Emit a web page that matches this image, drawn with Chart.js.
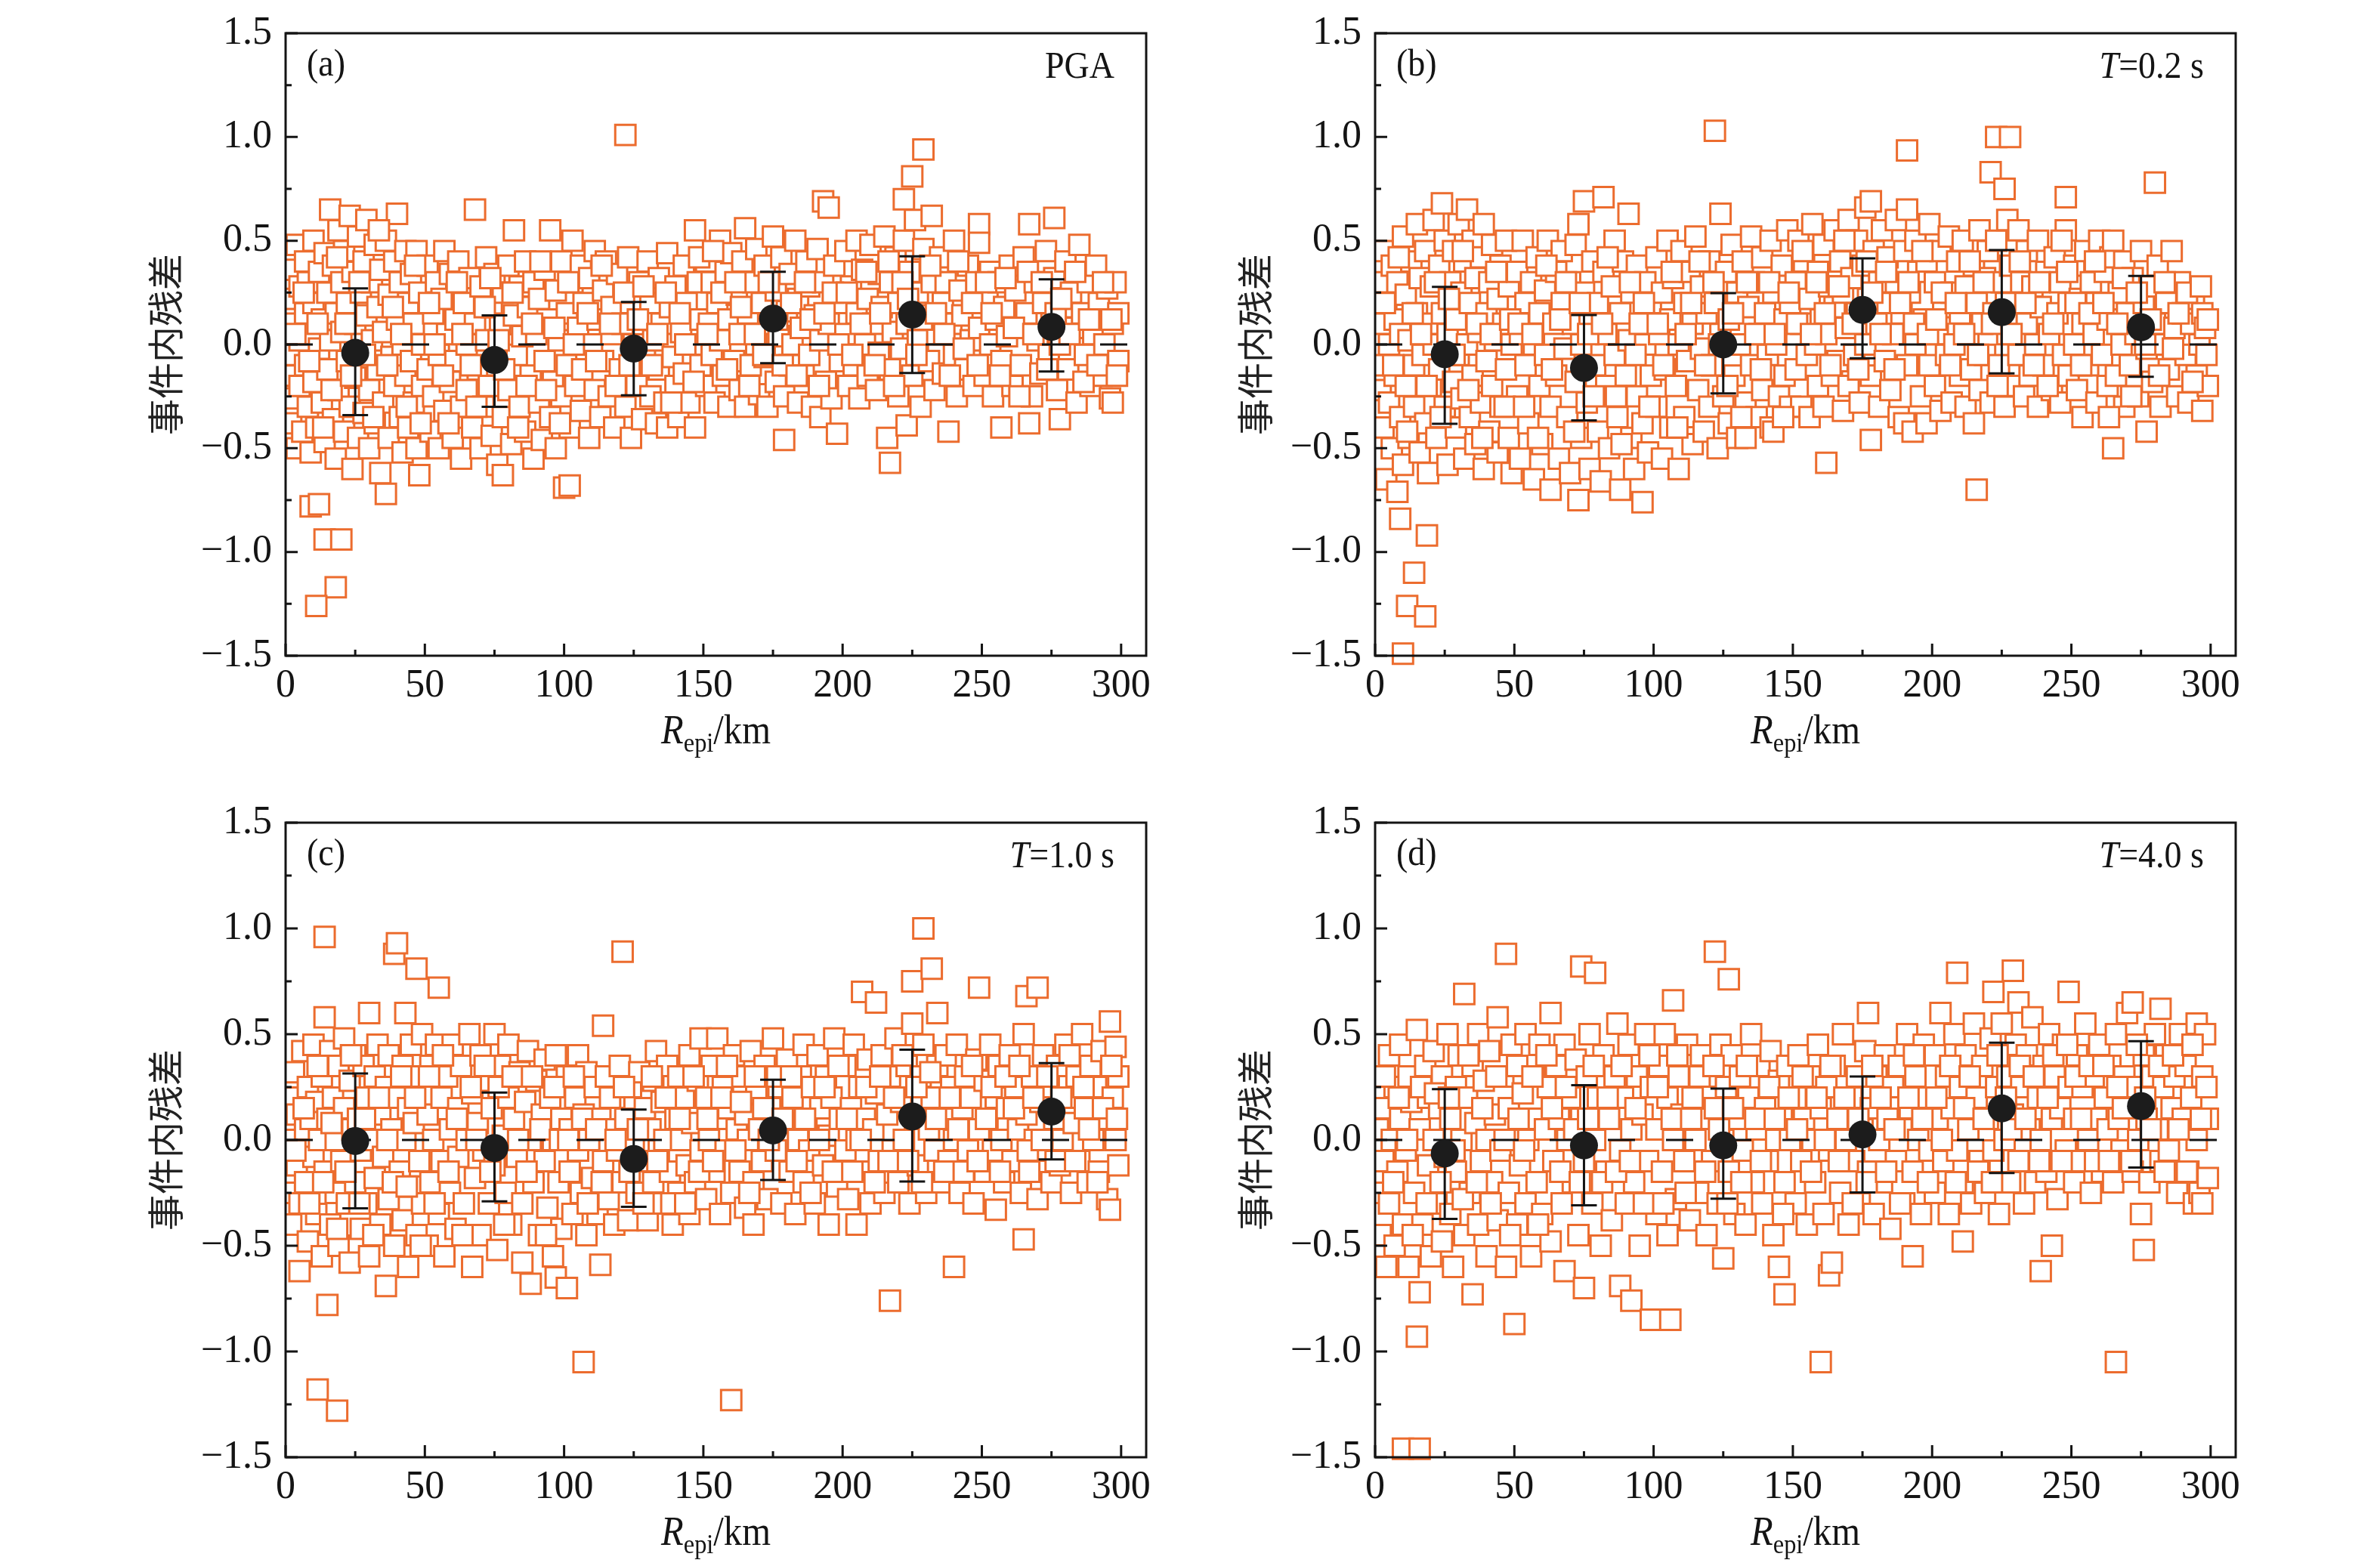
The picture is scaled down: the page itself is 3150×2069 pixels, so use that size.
<!DOCTYPE html>
<html><head><meta charset="utf-8">
<script src="https://cdn.jsdelivr.net/npm/chart.js@4.4.1/dist/chart.umd.min.js"></script>
<style>
html,body{margin:0;padding:0;background:#fff;}
#wrap{position:relative;width:3150px;height:2069px;overflow:hidden;background:#fff;}
canvas{position:absolute;}
</style></head><body>
<div id="wrap">
<canvas id="ca" width="1575" height="1035" style="left:0;top:0"></canvas>
<canvas id="cb" width="1575" height="1035" style="left:1575px;top:0"></canvas>
<canvas id="cc" width="1575" height="1034" style="left:0;top:1035px"></canvas>
<canvas id="cd" width="1575" height="1034" style="left:1575px;top:1035px"></canvas>
</div>
<script>
// ---------------- data ----------------
const binCenters = [25, 75, 125, 175, 225, 275];

const meanA = [-0.04, -0.075, -0.02, 0.125, 0.144, 0.085];
const upA   = [0.27, 0.14, 0.205, 0.35, 0.425, 0.314];
const loA   = [-0.34, -0.30, -0.245, -0.09, -0.137, -0.13];

const meanB = [-0.047, -0.113, 0.0, 0.167, 0.156, 0.083];
const upB   = [0.278, 0.142, 0.248, 0.415, 0.455, 0.33];
const loB   = [-0.382, -0.366, -0.236, -0.066, -0.139, -0.156];

const meanC = [-0.005, -0.038, -0.09, 0.045, 0.111, 0.134];
const upC   = [0.314, 0.224, 0.144, 0.285, 0.427, 0.363];
const loC   = [-0.323, -0.29, -0.316, -0.189, -0.196, -0.092];

const meanD = [-0.064, -0.026, -0.026, 0.026, 0.149, 0.16];
const upD   = [0.24, 0.259, 0.243, 0.30, 0.46, 0.467];
const loD   = [-0.373, -0.309, -0.278, -0.248, -0.156, -0.13];

const ptsA = [
[1,0.22],[1,-0.15],[2,0.36],[2,-0.05],[2,-0.38],[3,0.1],[3,-0.26],[4,0.48],[4,-0.5],[5,0.28],[5,0.02],[5,-0.2],[6,-0.42],[7,0.15],[7,0.4],[7,-0.1],[8,-0.3],[8,0.3],[9,0.05],[9,-0.52],[10,0.5],[10,0.2],[10,-0.18],[11,-0.4],[12,0.35],[12,-0.02],[13,-0.28],[13,0.12],[14,0.44],[14,-0.47],[15,0.25],[15,-0.12],[16,0.65],[16,0.02],[17,-0.36],[17,0.38],[18,0.15],[18,-0.55],[19,0.55],[19,-0.22],[20,0.3],[20,0.06],[21,-0.42],[21,0.45],[22,-0.08],[22,0.2],[23,0.62],[23,-0.3],[24,0.35],[24,-0.6],[25,0.1],[25,-0.16],[26,0.52],[26,-0.45],[27,0.25],[27,-0.04],[28,-0.33],[28,0.4],[29,0.6],[29,0.14],[30,-0.22],[30,-0.5],[31,0.3],[31,0.02],[32,0.48],[32,-0.38],[33,0.18],[33,-0.12],[34,-0.62],[34,0.36],[35,0.06],[35,-0.28],[36,-0.72],[36,0.5],[37,0.24],[37,-0.45],[38,-0.06],[39,0.4],[39,-0.2],[40,0.63],[40,0.12],[41,-0.35],[41,0.3],[42,-0.52],[42,0.0],[43,0.45],[43,-0.15],[44,0.2],[44,-0.4],[45,0.34],[45,-0.08],[46,-0.28],[46,0.1],[47,0.45],[47,-0.5],[48,-0.63],[48,0.25],[49,0.0],[49,-0.2],
[9,-0.78],[12,-0.77],[14,-0.94],[20,-0.94],[18,-1.17],[11,-1.26],
[51,0.38],[51,-0.12],[52,-0.42],[53,0.15],[53,-0.25],[54,0.3],[55,-0.05],[55,-0.5],[56,0.22],[57,-0.32],[57,0.45],[58,0.05],[59,-0.18],[59,0.34],[60,-0.45],[61,0.12],[61,-0.08],[62,0.4],[63,-0.3],[63,-0.55],[64,0.2],[65,0.0],[65,-0.22],[66,0.32],[67,-0.4],[68,0.65],[68,0.1],[69,-0.12],[70,0.28],[70,-0.5],[71,-0.3],[72,0.42],[72,0.02],[73,-0.2],[74,0.18],[74,-0.44],[75,0.34],[76,-0.1],[76,-0.58],[77,0.1],[78,-0.63],[78,0.25],[78,-0.35],[79,0.0],[80,0.38],[80,-0.22],[81,-0.48],[82,0.55],[82,0.14],[83,-0.05],[84,-0.3],[84,0.28],[85,0.04],[86,-0.42],[86,0.4],[87,0.18],[88,-0.15],[89,-0.55],[89,0.3],[90,0.05],[91,-0.28],[91,0.22],[92,-0.46],[93,0.36],[93,-0.08],[94,0.12],[95,0.55],[95,-0.35],[96,-0.18],[97,0.26],[97,-0.5],[98,0.02],[99,0.4],[99,-0.25],
[100,-0.69],[102,-0.68],
[101,0.15],[101,-0.1],[102,-0.4],[103,0.5],[103,0.3],[104,-0.2],[105,0.08],[106,-0.32],[106,0.38],[107,0.2],[108,-0.05],[109,-0.45],[109,0.32],[110,0.0],[111,-0.22],[111,0.45],[112,0.12],[113,-0.35],[114,0.26],[114,-0.08],[115,0.4],[116,-0.25],[117,0.05],[117,0.18],[118,-0.4],[119,0.34],[120,-0.12],[121,0.1],[122,1.01],[122,-0.3],[123,0.42],[124,-0.45],[124,0.2],[125,0.0],[126,-0.2],[127,0.3],[128,-0.36],[128,0.12],[129,-0.05],[130,0.4],[131,-0.25],[131,0.2],[132,0.02],[133,-0.38],[134,0.32],[134,-0.12],[135,0.1],[136,-0.28],[137,-0.4],[137,0.44],[138,0.18],[139,-0.06],[140,0.28],[140,-0.2],[141,-0.35],[142,0.06],[143,0.38],[143,-0.14],[144,0.2],[145,-0.28],[146,0.0],[147,0.55],[147,-0.4],[148,0.3],[149,-0.1],[149,0.12],
[151,0.4],[151,-0.2],[152,0.1],[153,-0.05],[153,0.3],[154,-0.28],[155,0.2],[156,0.5],[156,0.02],[157,-0.15],[158,0.35],[159,-0.3],[159,0.12],[160,0.44],[161,-0.08],[162,0.24],[163,-0.22],[163,0.05],[164,0.4],[165,0.56],[165,-0.3],[166,0.15],[167,-0.1],[168,0.3],[169,0.46],[169,0.0],[170,-0.24],[171,0.2],[172,0.38],[172,-0.06],[173,-0.3],[174,0.1],[175,0.52],[176,-0.18],[176,0.26],[177,0.04],[178,0.42],[179,-0.46],[179,-0.25],[180,0.16],[181,0.34],[181,-0.1],[182,0.0],[183,0.5],[184,-0.28],[184,0.22],[185,0.08],[186,-0.15],[187,0.4],[188,0.28],[188,-0.05],[189,-0.3],[190,0.14],[191,0.46],[192,-0.35],[192,0.02],[193,0.69],[193,0.3],[194,-0.18],[195,0.66],[195,0.1],[196,-0.26],[197,0.38],[198,-0.43],[198,0.2],[199,-0.08],
[201,0.45],[201,0.05],[202,-0.2],[203,0.28],[204,-0.1],[205,0.5],[205,0.15],[206,-0.26],[207,0.36],[208,0.0],[209,-0.15],[209,0.22],[210,0.48],[211,0.1],[212,-0.22],[213,0.34],[213,-0.04],[214,0.18],[215,0.52],[216,-0.45],[217,-0.57],[217,-0.12],[217,0.3],[218,0.06],[219,0.42],[220,-0.25],[220,0.2],[221,-0.02],[222,0.7],[222,0.5],[223,-0.39],[223,0.1],[224,0.35],[225,0.81],[225,-0.15],[226,0.6],[227,0.25],[227,0.02],[228,-0.3],[229,0.94],[229,0.46],[230,0.14],[231,-0.08],[232,0.62],[232,0.3],[233,-0.22],[234,0.05],[235,0.42],[236,0.2],[236,-0.14],[237,0.3],[238,-0.42],[239,0.1],[240,0.5],[240,-0.05],[241,-0.25],[242,0.26],[243,0.14],[244,-0.12],[245,0.38],[246,0.02],[247,-0.2],[248,0.3],[249,0.58],[249,0.49],[249,0.08],
[251,-0.15],[252,0.22],[253,0.35],[253,0.0],[254,-0.25],[255,0.12],[256,0.3],[257,-0.4],[257,-0.08],[258,0.18],[259,0.04],[260,0.38],[261,-0.2],[262,0.26],[263,0.08],[264,-0.1],[265,0.42],[266,0.15],[267,0.58],[267,-0.38],[268,-0.25],[269,0.3],[270,0.02],[271,-0.14],[272,0.2],[273,0.45],[274,-0.05],[275,0.1],[276,0.61],[276,0.32],[277,-0.22],[278,-0.36],[278,0.0],[279,0.18],[280,0.4],[281,-0.12],[282,0.25],[283,0.08],[284,-0.28],[285,0.48],[286,0.15],[287,-0.05],[288,0.3],[289,-0.2],[290,0.05],[291,0.38],[292,0.2],[293,-0.15],[294,0.0],[295,0.27],[296,-0.26],[297,0.1],[297,-0.28],[298,0.3],[299,0.15],[299,-0.08],
[3.5,0.05],[6.5,0.25],[8.5,-0.08],[11.5,0.1],[13.5,-0.4],[16.5,-0.22],[18.5,0.42],[21.5,0.1],[23.5,-0.15],[26.5,0.3],[28.5,-0.05],[31.5,-0.35],[33.5,0.55],[36.5,-0.1],[38.5,0.18],[41.5,0.05],[43.5,-0.3],[46.5,0.38],[48.5,-0.38],
[51.5,0.2],[53.5,0.0],[56.5,-0.15],[58.5,-0.38],[61.5,0.3],[63.5,0.05],[66.5,-0.1],[68.5,-0.3],[71.5,0.18],[73.5,0.32],[76.5,0.02],[78.5,-0.12],[81.5,0.25],[83.5,-0.4],[86.5,-0.2],[88.5,0.1],[91.5,0.4],[93.5,-0.22],[96.5,0.08],[98.5,-0.38],
[101.5,0.3],[103.5,0.0],[106.5,-0.12],[108.5,0.15],[111.5,-0.08],[113.5,0.38],[116.5,0.1],[118.5,-0.2],[121.5,0.25],[123.5,-0.1],[126.5,0.12],[128.5,0.28],[131.5,-0.1],[133.5,0.05],[136.5,0.25],[138.5,-0.28],[141.5,0.15],[143.5,0.0],[146.5,-0.18],[148.5,0.42],
[151.5,0.05],[153.5,0.45],[156.5,0.25],[158.5,-0.12],[161.5,0.3],[163.5,0.18],[166.5,-0.2],[168.5,0.05],[171.5,-0.05],[173.5,0.3],[176.5,0.12],[178.5,-0.1],[181.5,0.2],[183.5,-0.15],[186.5,0.3],[188.5,0.12],[191.5,-0.2],[193.5,0.15],[196.5,0.25],[198.5,0.0],
[201.5,0.25],[203.5,-0.05],[206.5,0.1],[208.5,0.35],[211.5,-0.1],[213.5,0.15],[216.5,0.4],[218.5,-0.2],[221.5,0.3],[223.5,0.22],[226.5,-0.05],[228.5,0.12],[231.5,0.38],[233.5,0.15],[236.5,0.05],[238.5,-0.15],[241.5,0.4],[243.5,-0.02],[246.5,0.2],[248.5,-0.1],
[251.5,0.3],[253.5,0.15],[256.5,-0.15],[258.5,0.32],[261.5,0.08],[263.5,-0.25],[266.5,0.35],[268.5,0.05],[271.5,0.3],[273.5,-0.12],[276.5,0.15],[278.5,0.22],[281.5,0.05],[283.5,0.35],[286.5,-0.18],[288.5,0.12],[291.5,-0.1],[293.5,0.3],[296.5,0.12],[298.5,-0.15]
];

const ptsB = [
[1,0.3],[1,-0.1],[2,-0.22],[2,0.1],[3,0.45],[3,-0.4],[4,-0.65],[4,0.2],[5,0.0],[5,-0.28],[6,0.38],[6,-0.5],[7,0.12],[7,-0.15],[8,-0.71],[8,0.3],[9,-0.84],[9,-0.35],[9,0.05],[10,0.52],[10,-0.58],[11,-0.2],[11,0.24],[12,0.02],[12,-0.45],[13,0.4],[14,-0.1],[14,-0.3],[15,0.15],[15,0.58],[16,-0.52],[16,0.32],[17,-0.05],[18,0.45],[18,-0.38],[19,0.1],[19,-0.62],[20,-0.2],[20,0.28],[21,0.6],[21,0.0],[22,-0.45],[23,0.38],[23,-0.12],[24,0.68],[24,0.15],[25,-0.3],[25,0.5],[26,-0.58],[26,0.05],[27,0.3],[28,-0.18],[28,0.45],[29,-0.4],[29,0.12],[30,0.58],[30,-0.05],[31,-0.26],[31,0.25],[32,0.4],[32,-0.55],[33,0.65],[33,0.0],[34,-0.35],[34,0.2],[35,0.5],[35,-0.15],[36,-0.48],[36,0.32],[37,0.06],[38,-0.28],[38,0.42],[39,0.58],[39,-0.6],[40,0.15],[40,-0.08],[41,0.3],[41,-0.42],[42,0.48],[42,-0.2],[43,0.02],[44,-0.52],[44,0.22],[45,0.38],[45,-0.3],[46,0.1],[47,-0.12],[47,0.5],[48,-0.45],[48,0.28],[49,0.0],[49,-0.62],
[18.6,-0.92],[14,-1.1],[11.5,-1.26],[18,-1.31],[10,-1.49],
[51,0.35],[51,-0.25],[52,0.05],[52,-0.55],[53,0.5],[54,-0.1],[54,0.2],[55,-0.38],[56,0.3],[57,-0.65],[57,0.0],[58,0.42],[59,-0.2],[59,0.15],[60,-0.48],[61,0.26],[61,-0.05],[62,0.5],[63,-0.3],[63,-0.7],[64,0.1],[65,0.35],[65,-0.15],[66,-0.55],[67,0.2],[67,0.45],[68,-0.02],[69,-0.35],[70,0.3],[70,-0.62],[71,0.1],[72,-0.18],[72,0.48],[73,-0.75],[73,0.58],[74,0.0],[74,-0.45],[75,0.69],[75,0.25],[76,-0.28],[77,0.12],[77,-0.6],[78,0.4],[79,-0.1],[80,0.2],[80,-0.42],[81,-0.66],[82,0.71],[82,0.35],[83,-0.2],[83,0.05],[84,-0.5],[85,0.28],[86,-0.05],[86,0.5],[87,-0.35],[88,0.15],[88,-0.7],[89,0.4],[90,-0.15],[91,0.63],[91,0.02],[92,-0.45],[92,0.25],[93,-0.6],[94,0.38],[94,-0.25],[95,0.1],[96,-0.76],[96,-0.38],[97,0.3],[97,0.0],[98,-0.52],[99,0.2],[99,-0.15],
[101,0.42],[101,-0.3],[102,0.05],[103,-0.55],[103,0.25],[104,-0.12],[105,0.5],[106,-0.4],[106,0.12],[107,0.32],[108,-0.2],[109,0.0],[109,-0.6],[110,0.45],[111,0.2],[111,-0.35],[112,-0.08],[113,0.35],[114,-0.48],[114,0.1],[115,0.52],[116,-0.22],[117,0.28],[117,-0.02],[118,-0.42],[119,0.15],[120,0.4],[120,-0.3],[121,-0.1],[122,1.03],[122,0.2],[123,-0.5],[124,0.63],[124,0.05],[125,-0.25],[126,0.35],[127,-0.38],[127,0.12],[128,0.48],[129,-0.15],[130,0.25],[130,-0.45],[131,0.0],[132,0.4],[133,-0.28],[133,-0.45],[134,0.18],[135,0.52],[135,-0.1],[136,0.3],[137,-0.35],[138,0.05],[139,0.42],[139,-0.22],[140,0.15],[141,-0.05],[142,0.5],[142,-0.4],[143,0.25],[143,-0.42],[144,0.0],[145,-0.25],[146,0.38],[147,0.12],[147,-0.15],[148,0.55],[149,-0.3],[149,0.2],
[151,0.3],[151,-0.12],[152,0.5],[153,-0.3],[153,0.1],[154,0.4],[155,-0.05],[156,0.22],[156,-0.35],[157,0.58],[158,0.0],[159,-0.2],[159,0.35],[160,0.12],[161,0.48],[161,-0.3],[162,-0.57],[162,0.05],[163,0.28],[164,-0.15],[165,0.55],[165,0.18],[166,-0.08],[167,0.4],[168,-0.32],[168,0.25],[169,0.08],[170,0.6],[170,-0.2],[171,0.32],[172,-0.05],[173,0.5],[173,0.15],[174,-0.28],[175,0.38],[176,0.0],[176,0.66],[177,0.22],[178,-0.46],[178,0.69],[178,-0.15],[179,0.45],[180,0.1],[181,-0.3],[181,0.3],[182,0.55],[183,-0.08],[184,0.2],[184,0.42],[185,-0.22],[186,0.05],[187,0.6],[187,0.3],[188,-0.35],[189,0.15],[190,-0.38],[190,0.45],[191,0.935],[191,0.65],[191,-0.1],[192,0.25],[193,-0.42],[194,0.5],[194,0.0],[195,0.35],[196,-0.25],[197,0.12],[198,-0.38],[198,0.4],[199,0.58],[199,-0.1],
[201,0.3],[201,-0.2],[202,0.05],[203,0.45],[203,-0.32],[204,0.18],[205,-0.05],[206,0.52],[207,0.25],[207,-0.28],[208,0.0],[209,0.4],[210,-0.15],[210,0.15],[211,0.5],[212,-0.3],[212,0.28],[213,0.05],[214,-0.12],[215,0.38],[215,-0.38],[216,-0.7],[216,0.2],[217,0.55],[217,-0.22],[218,0.1],[219,-0.05],[219,0.32],[220,0.45],[221,0.83],[221,-0.28],[222,0.15],[223,1.0],[223,0.5],[224,-0.1],[225,0.3],[226,0.75],[226,-0.3],[227,0.6],[227,0.05],[228,1.0],[228,0.38],[229,-0.2],[230,0.2],[231,0.55],[231,-0.05],[232,0.3],[233,-0.25],[234,0.45],[234,0.1],[235,-0.15],[236,0.28],[237,0.0],[238,0.5],[238,-0.3],[239,0.18],[240,-0.1],[241,0.35],[242,0.05],[243,-0.22],[244,0.42],[245,0.15],[246,-0.28],[246,0.3],[247,-0.05],[248,0.71],[248,0.55],[249,0.2],[249,-0.15],
[251,0.38],[251,0.0],[252,-0.22],[253,0.22],[254,-0.35],[254,0.1],[255,0.45],[256,-0.1],[257,0.3],[258,0.05],[259,-0.28],[259,0.2],[260,0.5],[261,-0.05],[262,0.35],[263,-0.2],[263,0.12],[264,0.42],[265,0.5],[265,-0.5],[266,-0.15],[267,0.25],[268,0.0],[269,-0.3],[269,0.4],[270,0.15],[271,-0.1],[272,0.32],[273,0.05],[274,-0.25],[275,0.45],[276,0.2],[277,-0.42],[277,-0.02],[278,0.28],[279,-0.18],[280,0.78],[280,0.1],[281,0.38],[282,-0.3],[283,0.0],[284,0.2],[285,-0.12],[286,0.45],[287,0.08],[288,-0.25],[289,0.3],[290,0.15],[291,-0.05],[292,-0.28],[293,0.1],[294,0.22],[295,-0.15],[296,0.0],[297,-0.32],[297,0.15],[298,0.08],[299,-0.2],[299,0.12],
[3.5,0.2],[6.5,-0.1],[8.5,0.42],[11.5,-0.42],[13.5,0.15],[16.5,0.05],[18.5,-0.2],[21.5,0.3],[23.5,-0.35],[26.5,0.22],[28.5,-0.05],[31.5,0.45],[33.5,-0.22],[36.5,0.1],[38.5,-0.45],[41.5,0.05],[43.5,0.35],[46.5,-0.3],[48.5,0.12],
[51.5,0.1],[53.5,-0.3],[56.5,0.05],[58.5,-0.45],[61.5,0.38],[63.5,-0.12],[66.5,0.12],[68.5,0.3],[71.5,-0.42],[73.5,0.2],[76.5,0.05],[78.5,-0.25],[81.5,0.1],[83.5,0.42],[86.5,-0.25],[88.5,-0.48],[91.5,0.3],[93.5,-0.05],[96.5,0.2],[98.5,-0.3],
[101.5,0.1],[103.5,-0.1],[106.5,0.35],[108.5,-0.4],[111.5,0.05],[113.5,0.2],[116.5,0.4],[118.5,-0.1],[121.5,0.3],[123.5,0.0],[126.5,-0.2],[128.5,0.15],[131.5,-0.35],[133.5,0.3],[136.5,0.05],[138.5,-0.12],[141.5,0.3],[143.5,0.05],[146.5,-0.35],[148.5,0.25],
[151.5,0.1],[153.5,0.45],[156.5,0.05],[158.5,0.3],[161.5,0.15],[163.5,-0.1],[166.5,0.28],[168.5,0.5],[171.5,0.1],[173.5,-0.12],[176.5,0.4],[178.5,0.25],[181.5,0.05],[183.5,0.35],[186.5,-0.12],[188.5,0.2],[191.5,0.3],[193.5,0.1],[196.5,0.45],[198.5,0.05],
[201.5,0.12],[203.5,0.25],[206.5,-0.1],[208.5,0.2],[211.5,0.05],[213.5,0.4],[216.5,-0.05],[218.5,0.3],[221.5,0.1],[223.5,-0.2],[226.5,0.2],[228.5,0.05],[231.5,0.4],[233.5,0.2],[236.5,-0.1],[238.5,0.3],[241.5,-0.2],[243.5,0.1],[246.5,0.5],[248.5,0.35],
[251.5,0.2],[253.5,-0.1],[256.5,0.15],[258.5,0.4],[261.5,0.2],[263.5,-0.35],[266.5,0.1],[268.5,0.32],[271.5,-0.25],[273.5,0.25],[276.5,0.0],[278.5,0.12],[281.5,-0.15],[283.5,0.3],[286.5,-0.02],[288.5,0.15],[291.5,0.25],[293.5,-0.18],[296.5,0.28],[298.5,-0.05]
];

const ptsC = [
[1,0.2],[1,-0.25],[2,0.0],[2,-0.4],[3,0.32],[4,-0.12],[4,0.12],[5,-0.62],[5,-0.3],[6,0.42],[7,0.05],[7,-0.2],[8,-0.48],[8,0.25],[9,0.1],[10,-0.08],[10,0.45],[11,-0.35],[11,0.18],[12,0.0],[13,-0.55],[13,0.3],[14,0.96],[14,0.58],[14,-0.15],[15,-0.78],[15,0.1],[16,-0.4],[16,0.42],[17,0.2],[18,-0.25],[18,0.0],[19,0.35],[19,-0.5],[20,-0.1],[21,0.48],[21,0.15],[22,-0.3],[23,-0.58],[23,0.28],[24,0.05],[25,-0.2],[25,0.4],[26,0.1],[27,-0.42],[27,-0.05],[28,0.35],[29,0.2],[29,-0.3],[30,0.6],[30,-0.55],[31,0.0],[32,0.3],[32,-0.18],[33,0.45],[34,-0.4],[34,0.12],[35,-0.08],[36,-0.69],[36,0.25],[37,0.4],[37,-0.28],[38,0.05],[39,0.88],[39,-0.5],[40,0.93],[40,0.2],[41,-0.15],[42,0.35],[42,-0.38],[43,0.6],[43,0.0],[44,-0.6],[44,0.15],[45,0.45],[45,-0.22],[46,0.08],[47,0.81],[47,-0.45],[48,0.3],[48,-0.1],[49,-0.3],[49,0.5],
[11.5,-1.18],[18.5,-1.28],
[51,0.12],[51,-0.5],[52,0.35],[52,-0.2],[53,0.0],[54,0.45],[55,0.72],[55,-0.35],[56,0.2],[56,-0.1],[57,-0.55],[58,0.3],[59,0.05],[59,-0.25],[60,0.45],[61,-0.42],[62,0.15],[62,-0.08],[63,0.35],[64,-0.3],[65,0.0],[66,0.5],[67,-0.6],[67,0.22],[68,-0.18],[69,0.08],[70,0.4],[70,-0.45],[71,-0.05],[72,0.28],[73,-0.3],[74,0.15],[75,0.5],[75,-0.12],[76,-0.52],[77,0.35],[78,0.02],[79,-0.25],[80,0.2],[80,0.45],[81,-0.4],[82,0.1],[83,-0.08],[84,0.32],[85,-0.58],[85,-0.3],[86,0.18],[87,0.42],[88,-0.68],[88,0.0],[89,-0.2],[90,0.28],[91,-0.45],[92,0.12],[93,0.38],[93,-0.1],[94,-0.32],[95,0.2],[96,-0.55],[96,0.0],[97,0.4],[97,-0.65],[98,-0.2],[99,0.1],[99,-0.42],
[101,-0.7],[101,0.3],[102,-0.15],[102,0.05],[103,-0.35],[104,0.2],[105,0.4],[105,-0.05],[106,-0.25],[107,-1.05],[107,0.12],[108,-0.45],[108,0.32],[109,0.0],[110,-0.18],[111,0.25],[112,-0.35],[113,-0.59],[113,0.1],[114,0.54],[114,-0.1],[115,0.3],[116,-0.28],[117,0.05],[118,0.2],[118,-0.4],[119,-0.05],[120,0.35],[121,0.89],[121,-0.2],[122,0.1],[123,-0.38],[124,0.25],[125,0.0],[126,-0.25],[127,0.32],[128,-0.1],[129,0.15],[130,-0.38],[131,0.05],[132,0.28],[132,-0.2],[133,0.42],[134,-0.05],[135,-0.3],[135,0.18],[136,0.0],[137,0.35],[138,-0.15],[139,-0.4],[140,0.1],[141,0.3],[141,-0.25],[142,0.0],[143,0.2],[144,-0.12],[145,0.4],[145,-0.35],[146,0.08],[147,-0.2],[148,0.28],[149,0.48],[149,-0.05],
[151,0.2],[151,-0.28],[152,0.0],[153,0.35],[154,-0.15],[155,0.48],[155,0.1],[156,-0.35],[157,0.25],[158,-0.05],[159,0.15],[160,-1.23],[160,-0.25],[161,0.4],[162,0.05],[163,-0.15],[164,0.3],[165,-0.32],[165,0.12],[166,0.0],[167,0.42],[168,-0.4],[168,-0.2],[169,0.22],[170,0.05],[171,-0.1],[172,0.35],[173,-0.28],[174,0.15],[175,0.48],[176,-0.05],[177,0.25],[178,-0.3],[179,0.08],[180,0.38],[181,-0.15],[182,0.2],[183,-0.35],[184,0.0],[185,0.3],[186,0.45],[186,-0.2],[187,0.1],[188,-0.05],[189,0.25],[190,-0.3],[191,0.4],[192,0.15],[193,-0.12],[194,0.3],[195,-0.4],[195,0.02],[196,0.2],[197,0.48],[198,-0.22],[199,0.1],
[201,0.35],[201,-0.05],[202,-0.28],[203,0.15],[204,0.45],[205,-0.4],[205,0.0],[206,0.25],[207,0.7],[207,-0.15],[208,0.1],[209,0.38],[210,-0.3],[211,0.05],[212,0.65],[212,0.22],[213,-0.1],[214,0.4],[215,-0.25],[216,0.12],[217,-0.76],[217,0.3],[218,-0.05],[219,0.48],[220,-0.2],[221,0.18],[222,0.0],[223,0.35],[224,-0.3],[225,0.75],[225,0.55],[226,0.1],[227,-0.12],[228,0.3],[229,1.0],[229,0.45],[230,-0.25],[231,0.05],[232,0.81],[232,0.2],[233,-0.05],[234,0.6],[234,0.35],[235,-0.2],[236,0.1],[237,0.4],[238,-0.1],[239,0.25],[240,-0.6],[240,0.0],[241,0.45],[242,-0.25],[243,0.15],[244,0.3],[245,-0.05],[246,0.2],[247,-0.3],[248,0.38],[249,0.72],[249,0.05],
[251,-0.15],[251,0.28],[252,0.1],[253,0.45],[254,-0.05],[255,-0.33],[255,0.2],[256,0.35],[257,0.0],[258,-0.2],[259,0.15],[260,0.4],[261,-0.1],[262,0.25],[263,0.05],[264,-0.25],[265,-0.47],[265,0.5],[266,0.68],[266,0.12],[267,-0.15],[268,0.3],[269,0.0],[270,0.72],[270,-0.28],[271,0.18],[272,0.4],[273,-0.05],[274,0.25],[275,-0.2],[276,0.1],[277,0.35],[278,-0.12],[279,0.0],[280,0.45],[281,0.2],[282,-0.25],[283,0.08],[284,0.3],[285,-0.1],[286,0.5],[287,0.15],[288,-0.2],[289,0.35],[290,0.0],[291,0.25],[292,-0.15],[293,0.42],[294,0.1],[295,-0.28],[296,0.56],[296,-0.33],[297,0.2],[298,0.44],[298,0.0],[299,-0.12],[299,0.3],
[3.5,-0.05],[6.5,0.15],[8.5,-0.3],[11.5,0.35],[13.5,-0.2],[16.5,0.08],[18.5,-0.42],[21.5,-0.15],[23.5,0.4],[26.5,-0.3],[28.5,0.1],[31.5,-0.45],[33.5,0.2],[36.5,0.0],[38.5,-0.2],[41.5,0.3],[43.5,-0.22],[46.5,0.2],[48.5,-0.5],
[51.5,0.3],[53.5,-0.3],[56.5,0.4],[58.5,-0.15],[61.5,0.1],[63.5,-0.45],[66.5,0.25],[68.5,0.0],[71.5,0.35],[73.5,-0.15],[76.5,0.25],[78.5,-0.4],[81.5,0.3],[83.5,0.0],[86.5,-0.15],[88.5,0.3],[91.5,0.05],[93.5,-0.45],[96.5,0.25],[98.5,0.0],
[101.5,0.0],[103.5,0.3],[106.5,0.1],[108.5,-0.3],[111.5,0.05],[113.5,-0.2],[116.5,0.2],[118.5,0.0],[121.5,0.25],[123.5,-0.15],[126.5,0.05],[128.5,-0.3],[131.5,0.3],[133.5,-0.1],[136.5,0.2],[138.5,-0.3],[141.5,0.1],[143.5,-0.3],[146.5,0.3],[148.5,-0.15],
[151.5,0.1],[153.5,-0.1],[156.5,0.2],[158.5,0.35],[161.5,-0.05],[163.5,0.18],[166.5,-0.25],[168.5,0.3],[171.5,0.15],[173.5,0.0],[176.5,0.3],[178.5,0.1],[181.5,0.3],[183.5,-0.1],[186.5,0.1],[188.5,-0.25],[191.5,0.0],[193.5,0.25],[196.5,-0.15],[198.5,0.35],
[201.5,0.1],[203.5,-0.15],[206.5,0.0],[208.5,0.25],[211.5,-0.2],[213.5,0.3],[216.5,-0.1],[218.5,0.2],[221.5,0.4],[223.5,-0.1],[226.5,0.25],[228.5,-0.2],[231.5,0.32],[233.5,0.1],[236.5,-0.15],[238.5,0.2],[241.5,0.05],[243.5,-0.15],[246.5,0.35],[248.5,-0.1],
[251.5,0.1],[253.5,0.25],[256.5,-0.15],[258.5,0.3],[261.5,0.15],[263.5,0.35],[266.5,-0.05],[268.5,0.2],[271.5,0.0],[273.5,0.3],[276.5,-0.1],[278.5,0.2],[281.5,0.4],[283.5,-0.1],[286.5,0.25],[288.5,0.05],[291.5,-0.2],[293.5,0.15],[296.5,0.35],[298.5,0.1]
];

const ptsD = [
[1,0.05],[1,-0.25],[2,0.3],[2,-0.45],[3,-0.1],[3,0.15],[4,-0.6],[5,0.4],[5,-0.3],[6,0.0],[7,0.25],[7,-0.5],[8,-0.15],[9,0.1],[9,0.45],[10,-0.4],[10,-1.46],[11,-0.05],[12,0.3],[12,-0.6],[13,0.18],[14,-0.25],[15,0.52],[15,-0.93],[16,-1.46],[16,0.05],[16,-0.72],[17,-0.4],[18,0.35],[19,-0.12],[19,0.2],[20,-0.55],[21,0.42],[21,0.0],[22,-0.3],[23,0.15],[24,-0.48],[24,0.3],[25,-0.08],[26,0.5],[27,-0.35],[27,0.1],[28,-0.6],[29,0.25],[29,-0.15],[30,0.4],[31,0.0],[32,0.69],[32,-0.45],[33,0.2],[34,-0.25],[35,-0.73],[35,0.35],[36,0.08],[37,-0.4],[37,0.5],[38,-0.1],[39,0.28],[40,-0.55],[40,0.0],[41,0.42],[42,-0.2],[43,0.12],[44,0.58],[44,-0.38],[45,-0.05],[46,0.3],[47,0.88],[47,-0.6],[48,0.15],[48,-0.25],[49,0.45],[50,-0.87],[50,0.0],
[51,0.35],[51,-0.4],[52,-0.12],[53,0.22],[54,0.5],[54,-0.3],[55,0.0],[56,-0.55],[57,0.3],[58,-0.2],[58,0.1],[59,0.45],[60,-0.35],[61,0.05],[62,0.25],[63,0.6],[63,-0.48],[64,-0.1],[65,0.35],[66,0.1],[67,-0.3],[68,-0.62],[68,0.45],[69,0.0],[70,0.2],[71,-0.2],[72,0.38],[73,-0.45],[74,0.82],[74,0.1],[75,-0.7],[75,-0.1],[76,0.3],[77,0.5],[78,-0.3],[79,0.79],[79,0.0],[80,0.2],[81,-0.5],[82,0.4],[83,-0.15],[84,0.1],[85,-0.38],[86,0.3],[87,0.55],[88,-0.69],[88,-0.05],[89,0.2],[90,-0.3],[91,0.45],[92,-0.76],[92,0.05],[93,-0.2],[94,0.3],[95,-0.5],[96,0.12],[97,0.5],[98,-0.1],[99,-0.85],[99,0.25],
[101,-0.35],[101,0.05],[102,0.35],[103,-0.15],[104,0.5],[105,-0.45],[105,0.2],[106,-0.85],[107,0.66],[107,0.0],[108,-0.28],[109,0.3],[110,0.12],[111,-0.1],[112,0.45],[113,-0.38],[114,0.2],[115,0.0],[116,-0.25],[117,0.4],[118,0.1],[119,-0.45],[120,0.3],[121,-0.1],[122,0.89],[122,0.15],[123,-0.3],[124,0.45],[125,-0.56],[125,0.0],[126,0.25],[127,0.76],[127,-0.15],[128,0.4],[129,-0.35],[130,0.1],[131,0.3],[132,-0.05],[133,-0.4],[134,0.2],[135,0.5],[136,-0.2],[137,0.05],[138,0.35],[139,-0.3],[140,0.15],[141,-0.1],[142,0.42],[143,-0.45],[144,0.0],[145,-0.6],[145,0.28],[146,0.1],[147,-0.73],[147,-0.2],[148,0.35],[149,0.0],
[151,0.2],[151,-0.3],[152,0.4],[153,-0.1],[154,0.1],[155,-0.4],[156,0.3],[157,0.0],[158,-0.2],[159,0.45],[160,-1.05],[160,0.15],[161,-0.35],[162,0.25],[163,-0.64],[163,-0.05],[164,-0.58],[165,0.35],[166,0.1],[167,-0.25],[168,0.5],[169,0.0],[170,-0.4],[171,0.2],[172,-0.1],[173,0.3],[174,-0.3],[175,0.05],[176,0.42],[177,0.6],[177,-0.15],[178,0.15],[179,-0.35],[180,0.3],[181,0.0],[182,-0.2],[183,0.4],[184,0.1],[185,-0.42],[186,0.25],[187,-0.1],[188,0.35],[189,0.05],[190,-0.3],[191,0.5],[192,0.15],[193,-0.55],[193,-0.15],[194,0.3],[195,0.0],[196,-0.35],[197,0.45],[198,0.2],[199,-0.05],
[201,0.4],[201,-0.25],[202,0.1],[203,0.6],[204,-0.1],[205,0.3],[206,-0.35],[207,0.15],[208,0.5],[209,0.79],[209,-0.05],[210,0.25],[211,-0.48],[211,-0.2],[212,0.4],[213,0.05],[214,-0.3],[215,0.55],[216,0.2],[217,-0.1],[218,0.35],[219,-0.25],[220,0.1],[221,0.48],[222,0.7],[222,-0.05],[223,0.25],[224,-0.35],[225,0.55],[226,0.0],[227,0.3],[228,-0.2],[229,0.8],[229,0.12],[230,0.45],[231,0.65],[231,-0.1],[232,0.25],[233,-0.3],[234,0.4],[235,0.05],[236,0.58],[237,-0.2],[238,0.2],[239,-0.62],[239,0.0],[240,0.35],[241,-0.15],[242,0.5],[243,-0.5],[243,0.1],[244,0.3],[245,-0.28],[246,0.15],[247,0.45],[248,-0.05],[249,0.7],[249,0.25],
[251,-0.2],[251,0.1],[252,0.4],[253,-0.1],[254,0.25],[255,0.55],[256,0.0],[257,-0.25],[258,0.3],[259,0.1],[260,0.45],[261,-0.15],[262,0.2],[263,0.05],[264,0.35],[265,-0.2],[266,-1.05],[266,0.5],[267,0.1],[268,-0.05],[269,0.3],[270,0.6],[271,0.15],[272,0.65],[272,-0.15],[273,0.25],[274,0.0],[275,-0.35],[276,-0.52],[276,0.4],[277,0.1],[278,-0.2],[279,0.3],[280,0.5],[281,0.05],[282,0.62],[282,-0.1],[283,0.25],[284,0.4],[285,-0.05],[286,0.15],[287,0.3],[288,-0.25],[289,0.5],[290,0.1],[291,0.35],[292,-0.15],[293,0.2],[294,-0.3],[295,0.55],[295,0.0],[296,-0.25],[297,0.3],[297,-0.3],[298,0.5],[299,0.1],[299,-0.18],
[3.5,0.3],[6.5,-0.2],[8.5,0.2],[11.5,0.0],[13.5,-0.45],[16.5,0.25],[18.5,-0.3],[21.5,0.22],[23.5,-0.2],[26.5,0.2],[28.5,-0.05],[31.5,-0.28],[33.5,0.4],[36.5,-0.2],[38.5,0.15],[41.5,-0.3],[43.5,0.3],[46.5,0.0],[48.5,-0.45],
[51.5,0.1],[53.5,-0.05],[56.5,0.3],[58.5,-0.4],[61.5,0.4],[63.5,0.15],[66.5,-0.15],[68.5,0.25],[71.5,0.05],[73.5,-0.2],[76.5,0.1],[78.5,0.35],[81.5,-0.2],[83.5,0.2],[86.5,-0.15],[88.5,0.35],[91.5,-0.1],[93.5,0.15],[96.5,-0.3],[98.5,0.4],
[101.5,0.25],[103.5,-0.3],[106.5,0.1],[108.5,0.4],[111.5,-0.25],[113.5,0.1],[116.5,0.3],[118.5,-0.15],[121.5,0.35],[123.5,0.05],[126.5,-0.3],[128.5,0.15],[131.5,-0.2],[133.5,0.35],[136.5,0.1],[138.5,-0.1],[141.5,0.25],[143.5,0.1],[146.5,-0.35],[148.5,0.2],
[151.5,0.05],[153.5,0.3],[156.5,-0.15],[158.5,0.2],[161.5,0.0],[163.5,0.35],[166.5,-0.1],[168.5,0.2],[171.5,-0.3],[173.5,0.1],[176.5,-0.2],[178.5,0.35],[181.5,0.2],[183.5,-0.15],[186.5,0.05],[188.5,-0.3],[191.5,0.2],[193.5,0.4],[196.5,0.1],[198.5,-0.2],
[201.5,0.2],[203.5,0.0],[206.5,0.35],[208.5,-0.2],[211.5,0.15],[213.5,0.3],[216.5,-0.15],[218.5,0.1],[221.5,-0.2],[223.5,0.4],[226.5,0.2],[228.5,0.05],[231.5,0.35],[233.5,0.1],[236.5,0.3],[238.5,-0.1],[241.5,0.2],[243.5,0.4],[246.5,-0.1],[248.5,0.45],
[251.5,0.3],[253.5,0.1],[256.5,0.35],[258.5,-0.1],[261.5,0.35],[263.5,-0.1],[266.5,0.25],[268.5,0.15],[271.5,-0.1],[273.5,0.45],[276.5,0.2],[278.5,0.05],[281.5,0.35],[283.5,-0.15],[286.5,0.4],[288.5,0.05],[291.5,-0.15],[293.5,0.45],[296.5,0.1],[298.5,0.25]
];

const panelTags = ['(a)', '(b)', '(c)', '(d)'];
const periodLabels = [
  [{t:'PGA', i:false}],
  [{t:'T', i:true}, {t:'=0.2 s', i:false}],
  [{t:'T', i:true}, {t:'=1.0 s', i:false}],
  [{t:'T', i:true}, {t:'=4.0 s', i:false}]
];
const yTitle = '事件内残差';
const xTitleParts = ['R', 'epi', '/km'];
const zeroLine = [0, 304];

// ---------------- styles ----------------
const ORANGE = '#ec6c2e';
const INK = '#141414';
const SERIF = "'Liberation Serif','Times New Roman',serif";

function makeChart(cfg) {
  const el = document.getElementById(cfg.id);
  const overlay = {
    id: 'overlay_' + cfg.id,
    afterDatasetDraw(chart, args) {
      if (chart.data.datasets[args.index].label !== 'zero') return;
      const ctx = chart.ctx, xs = chart.scales.x, ys = chart.scales.y;
      ctx.save();
      ctx.strokeStyle = INK; ctx.lineWidth = 3;
      binCenters.forEach((c, i) => {
        const px = xs.getPixelForValue(c);
        const pt = ys.getPixelForValue(cfg.up[i]);
        const pb = ys.getPixelForValue(cfg.lo[i]);
        ctx.beginPath();
        ctx.moveTo(px, pt); ctx.lineTo(px, pb);
        ctx.moveTo(px - 17, pt); ctx.lineTo(px + 17, pt);
        ctx.moveTo(px - 17, pb); ctx.lineTo(px + 17, pb);
        ctx.stroke();
      });
      ctx.restore();
    },
    afterDraw(chart) {
      const ctx = chart.ctx, a = chart.chartArea, xs = chart.scales.x, ys = chart.scales.y;
      ctx.save();
      ctx.strokeStyle = INK; ctx.lineWidth = 3;
      ctx.strokeRect(a.left, a.top, a.right - a.left, a.bottom - a.top);
      ctx.beginPath();
      ys.ticks.forEach(t => {
        const q = t.value * 4;
        if (Math.abs(q - Math.round(q)) > 1e-6) return;
        const len = Math.round(q) % 2 === 0 ? 16 : 8;
        const py = ys.getPixelForValue(t.value);
        ctx.moveTo(a.left, py); ctx.lineTo(a.left + len, py);
      });
      xs.ticks.forEach(t => {
        const q = t.value / 25;
        if (Math.abs(q - Math.round(q)) > 1e-6) return;
        const len = Math.round(q) % 2 === 0 ? 16 : 8;
        const px = xs.getPixelForValue(t.value);
        ctx.moveTo(px, a.bottom); ctx.lineTo(px, a.bottom - len);
      });
      ctx.stroke();

      ctx.fillStyle = INK;
      ctx.textBaseline = 'middle';
      // panel tag
      ctx.save();
      ctx.translate(a.left + 28, a.top + 43);
      ctx.scale(0.92, 1);
      ctx.font = '50px ' + SERIF;
      ctx.textAlign = 'left';
      ctx.fillText(cfg.tag, 0, 0);
      ctx.restore();
      // period label, right aligned
      ctx.save();
      ctx.translate(a.right - 42, a.top + 46);
      ctx.scale(0.92, 1);
      ctx.textAlign = 'left';
      let total = 0;
      cfg.label.forEach(p => { ctx.font = (p.i ? 'italic ' : '') + '50px ' + SERIF; total += ctx.measureText(p.t).width; });
      let x = -total;
      cfg.label.forEach(p => { ctx.font = (p.i ? 'italic ' : '') + '50px ' + SERIF; ctx.fillText(p.t, x, 0); x += ctx.measureText(p.t).width; });
      ctx.restore();
      // x axis title
      ctx.save();
      ctx.textBaseline = 'alphabetic';
      ctx.textAlign = 'left';
      const cx = (a.left + a.right) / 2, by = a.bottom + 116;
      const f1 = 'italic 54px ' + SERIF, f2 = '36px ' + SERIF, f3 = '54px ' + SERIF;
      ctx.font = f1; const w1 = ctx.measureText(xTitleParts[0]).width;
      ctx.font = f2; const w2 = ctx.measureText(xTitleParts[1]).width;
      ctx.font = f3; const w3 = ctx.measureText(xTitleParts[2]).width;
      const sx = 0.9;
      ctx.translate(cx - (w1 + w2 + w3) * sx / 2, by);
      ctx.scale(sx, 1);
      ctx.font = f1; ctx.fillText(xTitleParts[0], 0, 0);
      ctx.font = f2; ctx.fillText(xTitleParts[1], w1, 11);
      ctx.font = f3; ctx.fillText(xTitleParts[2], w1 + w2, 0);
      ctx.restore();
      ctx.restore();
    }
  };

  return new Chart(el, {
    type: 'scatter',
    data: {
      datasets: [
        { label: 'means', data: binCenters.map((x, i) => ({x: x, y: cfg.mean[i]})),
          pointStyle: 'circle', pointRadius: 18.5, backgroundColor: '#1c1c1c', borderColor: '#1c1c1c', borderWidth: 0, order: 0, clip: false },
        { label: 'zero', data: zeroLine.map(x => ({x: x, y: 0})), showLine: true,
          borderColor: INK, borderWidth: 3, borderDash: [36, 41], pointRadius: 0, order: 2, fill: false },
        { label: 'resid', data: cfg.pts.map(p => ({x: p[0], y: p[1]})),
          pointStyle: 'rect', pointRadius: 19, borderWidth: 3, borderColor: ORANGE, backgroundColor: '#ffffff', order: 3,
          clip: {left: 0, top: 0, right: 0, bottom: false} }
      ]
    },
    options: {
      responsive: false, animation: false, devicePixelRatio: 1, events: [],
      layout: { padding: { left: cfg.padLeft, top: cfg.padTop, right: cfg.padRight, bottom: 0 } },
      plugins: { legend: { display: false }, tooltip: { enabled: false } },
      scales: {
        x: {
          type: 'linear', min: 0, max: 309,
          grid: { display: false, drawTicks: false }, border: { display: false },
          ticks: { stepSize: 25, maxTicksLimit: 30, includeBounds: false, autoSkip: false, maxRotation: 0, minRotation: 0,
            padding: 14, color: INK, font: { family: SERIF, size: 52, lineHeight: 1 },
            callback: v => { const r = Math.round(v); return (Math.abs(v - r) < 1e-6 && r % 50 === 0) ? String(r) : ''; } },
          afterFit: s => { s.height = cfg.xAxisH; }
        },
        y: {
          type: 'linear', min: -1.5, max: 1.5,
          grid: { display: false, drawTicks: false }, border: { display: false },
          ticks: { stepSize: 0.25, maxTicksLimit: 30, autoSkip: false, padding: 18, color: INK,
            font: { family: SERIF, size: 52, lineHeight: 1 },
            callback: v => { const q = Math.round(v * 4); if (q % 2 !== 0) return ''; return (q / 4).toFixed(1).replace('-', '\u2212'); } },
          title: { display: true, text: yTitle, color: '#222', font: { family: "'Noto Sans CJK SC',sans-serif", size: 48, lineHeight: 1.2 }, padding: { top: 0, bottom: 0 } },
          afterFit: s => { s.width = 188; }
        }
      }
    },
    plugins: [overlay]
  });
}

const panels = [
  { id: 'ca', pts: ptsA, mean: meanA, up: upA, lo: loA, tag: panelTags[0], label: periodLabels[0], padLeft: 190, padTop: 30, padRight: 58, xAxisH: 167 },
  { id: 'cb', pts: ptsB, mean: meanB, up: upB, lo: loB, tag: panelTags[1], label: periodLabels[1], padLeft: 57, padTop: 30, padRight: 191, xAxisH: 167 },
  { id: 'cc', pts: ptsC, mean: meanC, up: upC, lo: loC, tag: panelTags[2], label: periodLabels[2], padLeft: 190, padTop: 54, padRight: 58, xAxisH: 140 },
  { id: 'cd', pts: ptsD, mean: meanD, up: upD, lo: loD, tag: panelTags[3], label: periodLabels[3], padLeft: 57, padTop: 54, padRight: 191, xAxisH: 140 }
];
panels.forEach(makeChart);
</script>
</body></html>
